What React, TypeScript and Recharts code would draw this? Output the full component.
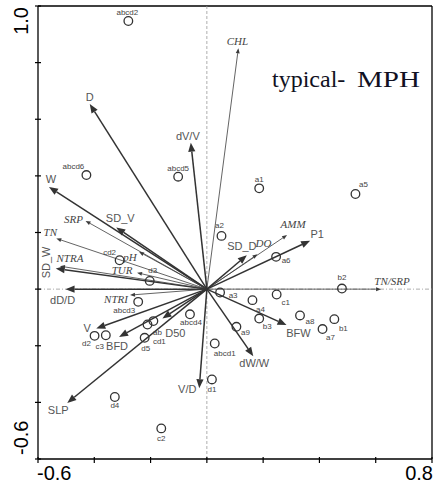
import React from 'react';
import { ScatterChart, Scatter, XAxis, YAxis, ReferenceLine } from 'recharts';

// ---- Data ----
const envNames = ['CHL', 'D', 'dV/V', 'W', 'SD_V', 'SRP', 'TN', 'pH', 'SD_W', 'NTRA', 'TUR', 'dD/D', 'NTRI', 'TN/SRP', 'AMM', 'DO', 'SD_D', 'P1', 'BFW', 'dW/W', 'V/D', 'SLP', 'V', 'BFD', 'D50'];
const envX = [0.112, -0.416, -0.057, -0.561, -0.322, -0.431, -0.535, -0.241, -0.537, -0.522, -0.248, -0.502, -0.273, 0.619, 0.285, 0.180, 0.142, 0.367, 0.283, 0.165, -0.027, -0.496, -0.393, -0.312, -0.158];
const envY = [0.851, 0.654, 0.517, 0.361, 0.218, 0.241, 0.179, 0.132, 0.073, 0.081, 0.058, 0.0, -0.021, 0.0, 0.191, 0.123, 0.120, 0.171, -0.127, -0.237, -0.350, -0.402, -0.139, -0.169, -0.104];
const thinVars = ['CHL', 'SRP', 'TN', 'pH', 'NTRA', 'TUR', 'NTRI', 'TN/SRP', 'AMM', 'DO'];

const siteNames = ['abcd2', 'abcd6', 'abcd5', 'a1', 'a5', 'a2', 'a6', 'b2', 'cd2', 'd3', 'a3', 'c1', 'a4', 'b3', 'a9', 'a8', 'a7', 'b1', 'abcd1', 'd1', 'abcd3', 'abcd4', 'ab', 'cd1', 'd5', 'd2', 'c3', 'd4', 'c2'];
const siteX = [-0.279, -0.428, -0.102, 0.186, 0.528, 0.052, 0.246, 0.480, -0.310, -0.203, 0.047, 0.248, 0.162, 0.186, 0.105, 0.331, 0.411, 0.453, 0.028, 0.018, -0.244, -0.060, -0.211, -0.190, -0.221, -0.399, -0.359, -0.327, -0.162];
const siteY = [0.947, 0.403, 0.397, 0.356, 0.336, 0.188, 0.114, 0.002, 0.102, 0.029, -0.012, -0.019, -0.039, -0.104, -0.133, -0.093, -0.141, -0.106, -0.192, -0.319, -0.045, -0.089, -0.125, -0.113, -0.172, -0.165, -0.163, -0.381, -0.492];

const xTicks = [-0.6, -0.4, -0.2, 0, 0.2, 0.4, 0.6, 0.8];
const xTickLabels = ['-0.6', '', '', '', '', '', '', '0.8'];
const yTicks = [-0.6, -0.4, -0.2, 0, 0.2, 0.4, 0.6, 0.8, 1.0];
const yTickLabels = ['-0.6', '', '', '', '', '', '', '', '1.0'];

const titleText = ['typical-', 'MPH'];

// ---- Layout (label offsets in px relative to mark) ----
const envLabelOffset: Record<string, [number, number]> = {
  'CHL': [-1, -7], 'D': [0, -7], 'dV/V': [-3, -7], 'W': [2, -8], 'SD_V': [4, -9],
  'SRP': [-12, -2], 'TN': [-6, -6], 'pH': [-9, 5], 'SD_W': [-10, -6], 'NTRA': [10, -8],
  'TUR': [-15, -3], 'dD/D': [-3, 11], 'NTRI': [-14, 4], 'TN/SRP': [11, -8], 'AMM': [6, -11],
  'DO': [6, -11], 'SD_D': [-5, -9], 'P1': [7, -7], 'BFW': [12, 8], 'dW/W': [1, 7],
  'V/D': [-12, 1], 'SLP': [-9, 7], 'V': [-9, 0], 'BFD': [-2, 9], 'D50': [13, 14],
};
const siteLabelOffset: Record<string, [number, number]> = {
  'abcd2': [-1, -9], 'abcd6': [-13, -9], 'abcd5': [0, -8], 'a1': [0, -9], 'a5': [8, -9],
  'a2': [-2, -10], 'a6': [10, 4], 'b2': [0, -11], 'cd2': [-10, -8], 'd3': [3, -10],
  'a3': [13, 3], 'c1': [9, 8], 'a4': [8, 9], 'b3': [8, 8], 'a9': [9, 6], 'a8': [10, 6],
  'a7': [8, 8], 'b1': [9, 9], 'abcd1': [10, 10], 'd1': [0, 10], 'abcd3': [-14, 9],
  'abcd4': [1, 8], 'ab': [10, 8], 'cd1': [6, 20], 'd5': [1, 11], 'd2': [-8, 8],
  'c3': [-6, 11], 'd4': [0, 9], 'c2': [0, 10],
};

const sites = siteNames.map((name, i) => ({ name, x: siteX[i], y: siteY[i] }));
const envs = envNames.map((name, i) => ({ name, x: envX[i], y: envY[i], thin: thinVars.includes(name) }));

const SANS = '"Liberation Sans", Arial, sans-serif';
const SERIF = '"Liberation Serif", "Times New Roman", serif';

function makeArrow(name: string, thin: boolean) {
  return (p: any) => {
    const x1 = Number(p.x1), y1 = Number(p.y1), x2 = Number(p.x2), y2 = Number(p.y2);
    const dx = x2 - x1, dy = y2 - y1;
    const len = Math.hypot(dx, dy) || 1;
    const ux = dx / len, uy = dy / len;
    const hl = thin ? 5 : 9;
    const hw = thin ? 2 : 3.6;
    const bx = x2 - ux * hl, by = y2 - uy * hl;
    const nx = -uy, ny = ux;
    const pts = `${x2},${y2} ${bx + nx * hw},${by + ny * hw} ${bx - nx * hw},${by - ny * hw}`;
    const off = envLabelOffset[name] || [0, -8];
    const lx = x2 + off[0], ly = y2 + off[1];
    const color = thin ? '#3c3c3c' : '#333';
    return (
      <g>
        <line x1={x1} y1={y1} x2={bx} y2={by} stroke={color} strokeWidth={thin ? 0.8 : 1.5} />
        <polygon points={pts} fill={color} />
        {name === 'SD_W' ? (
          <text x={lx} y={ly} transform={`rotate(-90, ${lx}, ${ly})`} textAnchor="middle" dominantBaseline="central"
            fontFamily={SANS} fontSize={11} fill="#555">{name}</text>
        ) : (
          <text x={lx} y={ly} textAnchor="middle" dominantBaseline="central"
            fontFamily={thin ? SERIF : SANS} fontStyle={thin ? 'italic' : 'normal'}
            fontSize={11} fill={thin ? '#444' : '#555'}>{name}</text>
        )}
      </g>
    );
  };
}

const siteShape = (p: any) => {
  const { cx, cy, payload } = p;
  const off = siteLabelOffset[payload.name] || [0, -9];
  return (
    <g>
      <circle cx={cx} cy={cy} r={4.3} fill="none" stroke="#333" strokeWidth={1.3} />
      <text x={cx + off[0]} y={cy + off[1]} textAnchor="middle" dominantBaseline="central"
        fontFamily={SANS} fontSize={8} fill="#444">{payload.name}</text>
    </g>
  );
};

const XTick = (p: any) => {
  const v = p.payload.value;
  const idx = xTicks.findIndex((t) => Math.abs(t - v) < 1e-9);
  const lab = idx >= 0 ? xTickLabels[idx] : '';
  const first = idx === 0;
  return (
    <g>
      <line x1={p.x} x2={p.x} y1={p.y - 2} y2={p.y + 4} stroke="#000" strokeWidth={1.2} />
      {lab ? (
        <text x={first ? p.x - 1 : p.x + 1} y={p.y + 21} textAnchor={first ? 'start' : 'end'}
          fontFamily={SANS} fontSize={20} fill="#000">{lab}</text>
      ) : null}
    </g>
  );
};

const YTick = (p: any) => {
  const v = p.payload.value;
  const idx = yTicks.findIndex((t) => Math.abs(t - v) < 1e-9);
  const lab = idx >= 0 ? yTickLabels[idx] : '';
  const top = idx === yTicks.length - 1;
  const tx = p.x - 10;
  const ty = top ? p.y + 1 : p.y - 4;
  return (
    <g>
      <line x1={p.x - 3} x2={p.x + 3} y1={p.y} y2={p.y} stroke="#000" strokeWidth={1.2} />
      {lab ? (
        <text x={tx} y={ty} transform={`rotate(-90, ${tx}, ${ty})`} textAnchor={top ? 'end' : 'start'}
          fontFamily={SANS} fontSize={20} fill="#000">{lab}</text>
      ) : null}
    </g>
  );
};

export default function App() {
  return (
    <div style={{ position: 'absolute', left: 0, top: 0, width: 436, height: 491, background: '#fff' }}>
      <ScatterChart width={436} height={491} margin={{ top: 6, right: 4, bottom: 0, left: 0 }}>
        <XAxis type="number" dataKey="x" domain={[-0.6, 0.8]} ticks={xTicks} allowDataOverflow
          height={32} tickSize={0} tickMargin={0} tickLine={false} tick={XTick}
          axisLine={{ stroke: '#000', strokeWidth: 1.3 }} interval={0} />
        <YAxis type="number" dataKey="y" domain={[-0.6, 1.0]} ticks={yTicks} allowDataOverflow
          width={38} tickSize={0} tickMargin={0} tickLine={false} tick={YTick}
          axisLine={{ stroke: '#000', strokeWidth: 1.3 }} interval={0} />
        <ReferenceLine y={1.0} stroke="#000" strokeWidth={1.3} />
        <ReferenceLine x={0.8} stroke="#000" strokeWidth={1.3} />
        <ReferenceLine x={0} stroke="#999" strokeWidth={0.8} strokeDasharray="3 2" />
        <ReferenceLine y={0} stroke="#999" strokeWidth={0.8} strokeDasharray="4 2 1 2" />
        {envs.map((e) => (
          <ReferenceLine key={e.name} segment={[{ x: 0, y: 0 }, { x: e.x, y: e.y }]}
            shape={makeArrow(e.name, e.thin)} />
        ))}
        <Scatter data={sites} shape={siteShape} isAnimationActive={false} />
      </ScatterChart>
      <svg width={436} height={491} style={{ position: 'absolute', left: 0, top: 0, pointerEvents: 'none' }}>
        <text x={272} y={87} fontFamily={SERIF} fontSize={24} fill="#111122">{titleText[0]}</text>
        <text x={357} y={87} fontFamily={SERIF} fontSize={24} fill="#111122" textLength={63} lengthAdjust="spacingAndGlyphs">{titleText[1]}</text>
      </svg>
    </div>
  );
}
